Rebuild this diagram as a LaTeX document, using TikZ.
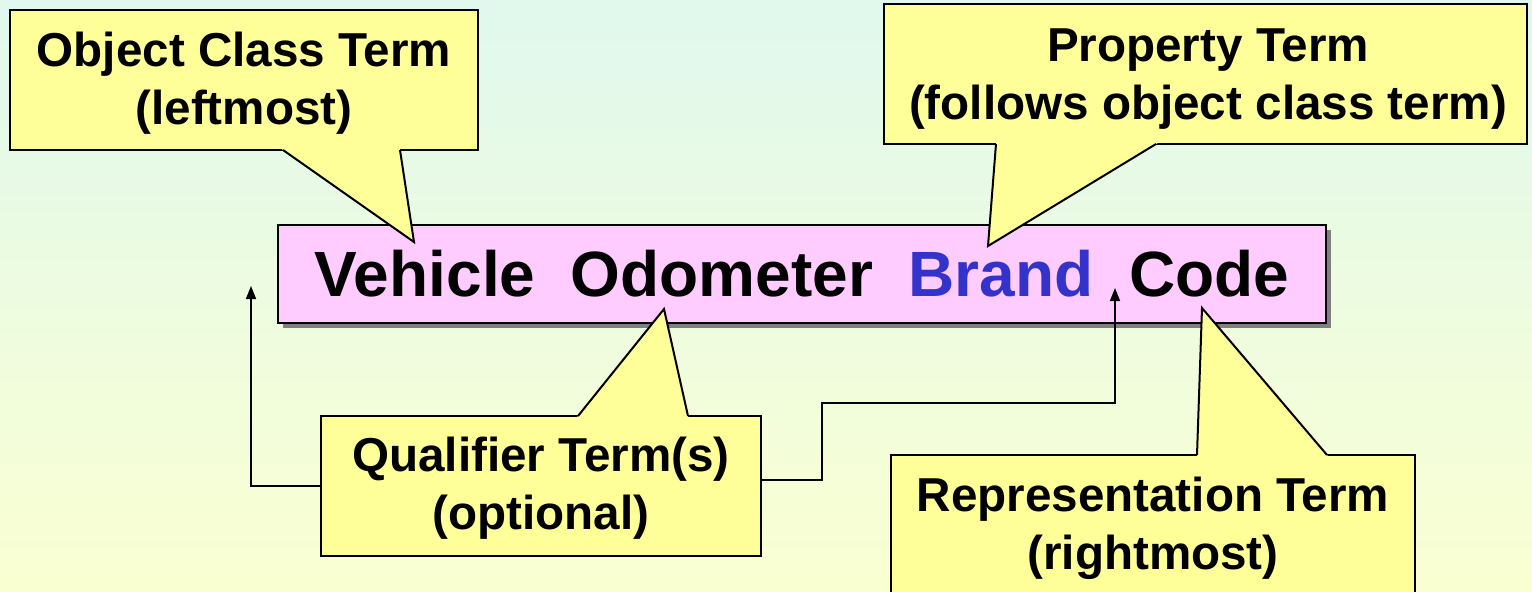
\documentclass[tikz,border=0pt]{standalone}
\usepackage{fontspec}
\setmainfont{Liberation Sans}
\usetikzlibrary{arrows.meta,shadows,calc}

\definecolor{bgtop}{HTML}{E0F8EE}
\definecolor{bgbot}{HTML}{FAFFD2}
\definecolor{notefill}{HTML}{FFFF99}
\definecolor{termfill}{HTML}{FFCCFF}
\definecolor{brandblue}{HTML}{3333CC}

\tikzset{
  notebox/.style={draw=black, line width=1pt, fill=notefill, inner sep=0pt, outer sep=0pt},
  notetext/.style={align=center, inner sep=0pt,
    font=\fontsize{23.8}{29}\selectfont\bfseries},
  pointeredge/.style={draw=black, line width=1pt, line join=miter},
  termbox/.style={draw=black, line width=1pt, fill=termfill, inner sep=0pt, outer sep=0pt,
    drop shadow={shadow xshift=2.5pt, shadow yshift=-2.5pt, fill=black!50, opacity=1},
    font=\fontsize{32}{38}\selectfont\bfseries},
  link/.style={draw=black, line width=0.8pt, -{Triangle[length=6.5pt,width=5pt]}}
}

% speech-bubble tail: base point, tip, base point
\newcommand\notepointer[3]{%
  \fill[notefill] ($#1!-0.04!#2$) -- #2 -- ($#3!-0.04!#2$) -- cycle;
  \draw[pointeredge] #1 -- #2 -- #3;
}

\begin{document}
\begin{tikzpicture}[x=0.5pt,y=-0.5pt]
\useasboundingbox (0,0) rectangle (1532,591);
\clip (0,0) rectangle (1532,591);
\shade[top color=bgtop, bottom color=bgbot] (0,0) rectangle (1532,591);

% the data element name
\node[termbox, minimum width=524pt, minimum height=49pt] (term) at (802,274)
  {Vehicle\ \ Odometer\ \ \textcolor{brandblue}{Brand}\ \ Code};

% connectors from the qualifier note end here
\coordinate (lefttip) at (251,286);
\coordinate (righttip) at (1115,288);

% object class note
\node[notebox, minimum width=234pt, minimum height=70pt] (oc) at (244,80) {};
\notepointer{(283,150)}{(414,242)}{(400,150)}
\node[notetext] at ([yshift=-1.8pt]oc.center) {Object Class Term\\(leftmost)};

% property note
\node[notebox, minimum width=321.5pt, minimum height=70pt] (pt) at (1205.5,74) {};
\notepointer{(996,144)}{(988,246)}{(1156,144)}
\node[notetext] at ([xshift=1.25pt,yshift=-2.3pt]pt.center) {Property Term\\(follows object class term)};

% qualifier note
\node[notebox, minimum width=220pt, minimum height=70pt] (qt) at (541,486) {};
\notepointer{(578,416)}{(664,309)}{(688,416)}
\node[notetext] at ([yshift=-1.25pt]qt.center) {Qualifier Term(s)\\(optional)};

% representation note
\node[notebox, minimum width=262pt, minimum height=72.5pt] (rt) at (1153,527.5) {};
\notepointer{(1197,455)}{(1202,308)}{(1327,455)}
\node[notetext] at ([yshift=-0.55pt]rt.center) {Representation Term\\(rightmost)};

\draw[link] (qt.west) -| (lefttip);
\draw[link] ([yshift=3pt]qt.east) -| (822,403) -| (righttip);
\end{tikzpicture}
\end{document}
